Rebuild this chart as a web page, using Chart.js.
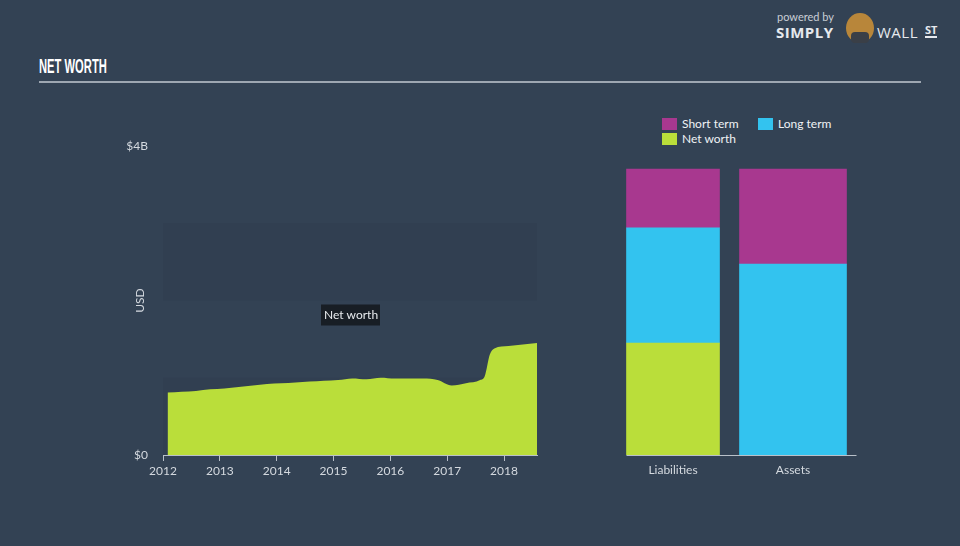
<!DOCTYPE html>
<html>
<head>
<meta charset="utf-8">
<script src="https://cdn.jsdelivr.net/npm/chart.js@4"></script>
<style>
  body { margin: 0; width: 960px; height: 546px; background: #334254; overflow: hidden; position: relative; font-family: Lato, sans-serif; }
  #titulo { position: absolute; left: 39px; top: 55px; color: #fff; font: bold 20px "Liberation Sans Narrow", sans-serif; transform: scaleX(0.56); transform-origin: left; }
  #linha { position: absolute; left: 39px; top: 81px; width: 882px; height: 2px; background: #9ea7b2; }
  #logo { position: absolute; left: 776px; top: 10px; color: #e6e9ee; }
  #legenda { position: absolute; left: 662px; top: 116px; font-size: 12px; color: #f0f2f4; }
  .item { position: absolute; white-space: nowrap; }
  .item span { display: inline-block; width: 15px; height: 12px; vertical-align: -2px; margin-right: 5px; }
  canvas { position: absolute; }
</style>
</head>
<body>
<div id="titulo">NET WORTH</div>
<div id="linha"></div>

<div id="logo">
  <div style="position:absolute;left:1px;top:0;font-size:11px;color:#c9ced6;white-space:nowrap">powered by</div>
  <div style="position:absolute;left:0;top:12px;font:bold 15px 'Open Sans',sans-serif;letter-spacing:0.5px">SIMPLY</div>
  <div style="position:absolute;left:70px;top:3px;width:28px;height:30px;border-radius:50%;background:#b8863a"></div>
  <div style="position:absolute;left:75px;top:22px;width:18px;height:11px;border-radius:4px;background:#3a3f47"></div>
  <div style="position:absolute;left:101px;top:12px;font:15px 'Open Sans',sans-serif;letter-spacing:0.5px">WALL</div>
  <div style="position:absolute;left:149px;top:14px;font:bold 11px 'Open Sans',sans-serif;border-bottom:2px solid #e6e9ee;line-height:12px">ST</div>
</div>

<div id="legenda">
  <div class="item" style="left:0;top:0"><span style="background:#a8388f"></span>Short term</div>
  <div class="item" style="left:96px;top:0"><span style="background:#33c3ef"></span>Long term</div>
  <div class="item" style="left:0;top:15px"><span style="background:#bade3a"></span>Net worth</div>
</div>

<canvas id="graficoLinha" width="560" height="420" style="left:0;top:100px"></canvas>
<canvas id="graficoBarras" width="400" height="420" style="left:560px;top:100px"></canvas>

<script>
// Patrimônio líquido (US$ bilhões) por data (ano decimal)
const datas = [2012.08, 2012.33, 2012.58, 2012.83, 2013.08, 2013.33, 2013.58, 2013.83,
  2014.08, 2014.33, 2014.58, 2014.83, 2015.08, 2015.33, 2015.58, 2015.83,
  2016.08, 2016.33, 2016.58, 2016.83, 2017.08, 2017.33, 2017.58, 2017.66,
  2017.75, 2017.83, 2018.08, 2018.33, 2018.58];
const patrimonio = [0.81, 0.82, 0.83, 0.85, 0.86, 0.88, 0.90, 0.92,
  0.93, 0.94, 0.95, 0.96, 0.97, 0.99, 0.98, 1.00,
  0.99, 0.99, 0.99, 0.97, 0.90, 0.93, 0.97, 1.02,
  1.30, 1.38, 1.41, 1.43, 1.45];
const anos = [2012, 2013, 2014, 2015, 2016, 2017, 2018];
const faixas = [[0, 1], [2, 3]];

// Balanço (US$ bilhões)
const categorias = ["Liabilities", "Assets"];
const curtoPrazo = [0.76, 1.23];
const longoPrazo = [1.49, 2.47];
const liquido = [1.45, 0];

const corTexto = "#d4d9df";
const corEixo = "#b9c0c9";
const fonte = { family: "Lato", size: 12 };

// Plugin das faixas escuras e do rótulo "Net worth"
const faixasPlugin = {
  id: "faixas",
  beforeDatasetsDraw(chart) {
    const { ctx, chartArea, scales } = chart;
    ctx.save();
    ctx.fillStyle = "rgba(28, 38, 52, 0.09)";
    faixas.forEach(function (f) {
      const y1 = scales.y.getPixelForValue(f[1]);
      const y0 = scales.y.getPixelForValue(f[0]);
      ctx.fillRect(chartArea.left, y1, chartArea.right - chartArea.left, y0 - y1);
    });
    ctx.restore();
  },
  afterDraw(chart) {
    const { ctx, chartArea, scales } = chart;
    ctx.save();
    // rótulo do eixo y
    ctx.translate(chartArea.left - 23, (chartArea.top + chartArea.bottom) / 2);
    ctx.rotate(-Math.PI / 2);
    ctx.fillStyle = corTexto;
    ctx.font = "12px Lato";
    ctx.textAlign = "center";
    ctx.textBaseline = "middle";
    ctx.fillText("USD", 0, 0);
    ctx.restore();

    // caixa "Net worth"
    const cx = (chartArea.left + chartArea.right) / 2;
    const cy = scales.y.getPixelForValue(faixas[1][0]) + 14;
    ctx.save();
    ctx.fillStyle = "rgba(22, 27, 34, 0.92)";
    ctx.fillRect(cx - 29, cy - 10, 59, 21);
    ctx.fillStyle = "#e8ebee";
    ctx.font = "12px Lato";
    ctx.textAlign = "center";
    ctx.textBaseline = "middle";
    ctx.fillText("Net worth", cx + 1, cy + 1);
    ctx.restore();
  }
};

new Chart(document.getElementById("graficoLinha").getContext("2d"), {
  type: "line",
  data: {
    datasets: [{
      label: "Net worth",
      data: datas.map(function (d, i) { return { x: d, y: patrimonio[i] }; }),
      backgroundColor: "#bade3a",
      borderWidth: 0,
      pointRadius: 0,
      fill: "origin",
      cubicInterpolationMode: "monotone",
    }],
  },
  options: {
    responsive: false,
    animation: false,
    layout: { padding: { top: 46, right: 23, left: 0, bottom: 0 } },
    plugins: { legend: { display: false }, tooltip: { enabled: false } },
    scales: {
      x: {
        type: "linear",
        min: 2012,
        max: 2018.58,
        afterFit: function (s) { s.height = 65; },
        afterBuildTicks: function (s) { s.ticks = anos.map(function (a) { return { value: a }; }); },
        ticks: { color: corTexto, font: fonte, padding: 3, maxRotation: 0, callback: function (v) { return String(v); } },
        grid: { drawOnChartArea: false, drawTicks: true, tickLength: 6, color: corEixo },
        border: { color: corEixo },
      },
      y: {
        min: 0,
        max: 4,
        afterFit: function (s) { s.width = 163; },
        ticks: { stepSize: 4, color: corTexto, font: fonte, padding: 15,
          callback: function (v) { return v === 0 ? "$0" : "$" + v + "B"; } },
        grid: { display: false, drawTicks: false },
        border: { display: false },
      },
    },
  },
  plugins: [faixasPlugin],
});

// Barras empilhadas: cada categoria com sua largura
const larguras = [93, 107];
const conjuntos = [];
categorias.forEach(function (c, i) {
  const so = function (v) { return categorias.map(function (_, j) { return j === i ? v : null; }); };
  if (liquido[i] > 0) conjuntos.push({ label: "Net worth", data: so(liquido[i]), backgroundColor: "#bade3a", barThickness: larguras[i] });
  conjuntos.push({ label: "Long term", data: so(longoPrazo[i]), backgroundColor: "#33c3ef", barThickness: larguras[i] });
  conjuntos.push({ label: "Short term", data: so(curtoPrazo[i]), backgroundColor: "#a8388f", barThickness: larguras[i] });
});

const linhaBase = {
  id: "linhaBase",
  afterDraw(chart) {
    const { ctx, chartArea } = chart;
    const primeira = chart.getDatasetMeta(0).data[0];
    const ultima = chart.getDatasetMeta(chart.data.datasets.length - 1).data[1];
    ctx.save();
    ctx.strokeStyle = corEixo;
    ctx.lineWidth = 1;
    ctx.beginPath();
    ctx.moveTo(primeira.x - primeira.width / 2, chartArea.bottom + 0.5);
    ctx.lineTo(ultima.x + ultima.width / 2 + 10, chartArea.bottom + 0.5);
    ctx.stroke();
    ctx.restore();
  }
};

new Chart(document.getElementById("graficoBarras").getContext("2d"), {
  type: "bar",
  data: { labels: categorias, datasets: conjuntos },
  options: {
    responsive: false,
    animation: false,
    layout: { padding: { top: 46, right: 107, left: 53, bottom: 0 } },
    plugins: { legend: { display: false }, tooltip: { enabled: false } },
    scales: {
      x: {
        stacked: true,
        afterFit: function (s) { s.height = 65; },
        ticks: { color: corTexto, font: fonte, padding: 8 },
        grid: { display: false, drawTicks: false },
        border: { display: false },
      },
      y: { stacked: true, display: false, min: 0, max: 4 },
    },
  },
  plugins: [linhaBase],
});
</script>
</body>
</html>
